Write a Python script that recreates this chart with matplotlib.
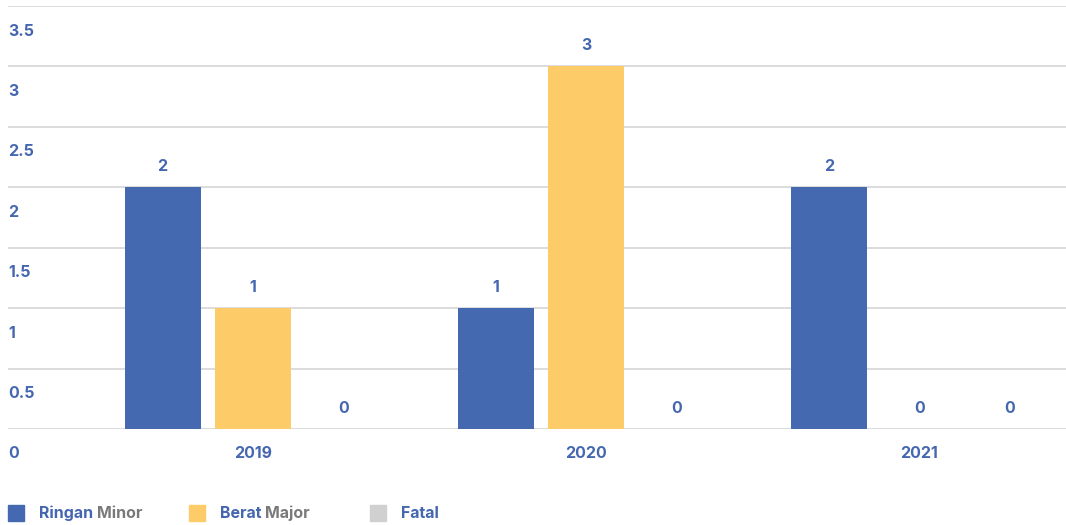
import matplotlib
matplotlib.use('Agg')
import matplotlib.pyplot as plt
import numpy as np

plt.rcParams['font.family'] = ['Inter', 'DejaVu Sans']

# data
years = ['2019', '2020', '2021']
ringan = [2, 1, 2]
berat = [1, 3, 0]
fatal = [0, 0, 0]
y_ticks = [0, 0.5, 1, 1.5, 2, 2.5, 3, 3.5]
y_tick_labels = ['0', '0.5', '1', '1.5', '2', '2.5', '3', '3.5']
legend_main = ['Ringan', 'Berat', 'Fatal']
legend_sub = ['Minor', 'Major', '']

blue = '#4469b1'
yellow = '#fdcc68'
grey = '#d0d0d0'
text_blue = '#4467b0'
text_grey = '#7a7a7a'
colors = [blue, yellow, grey]

W, H = 1066, 525
fig = plt.figure(figsize=(W / 100, H / 100), dpi=100)
ax = fig.add_axes([8 / W, (H - 429) / H, (1066 - 8) / W, (429 - 6) / H])

x = np.arange(len(years))
bw = 0.228
off = 0.272
series = [ringan, berat, fatal]
for i, (vals, c) in enumerate(zip(series, colors)):
    pos = x + (i - 1) * off
    ax.bar(pos, vals, width=bw, color=c, zorder=2)
    for p, v in zip(pos, vals):
        ax.annotate(str(v), xy=(p, v), xytext=(0, 15), textcoords='offset points',
                    ha='center', va='center', fontsize=11.5, fontweight='bold', color=text_blue)

ax.set_xlim(-0.736, 2.44)
ax.set_ylim(0, 3.5)
ax.set_yticks(y_ticks)
ax.grid(axis='y', color='#d9d9d9', lw=1.3, zorder=0)
ax.tick_params(left=False, bottom=False, labelleft=False, labelbottom=False)
for s in ax.spines.values():
    s.set_visible(False)

# y labels sit below their gridline
for v, lab in zip(y_ticks, y_tick_labels):
    ax.annotate(lab, xy=(0, v), xycoords=('axes fraction', 'data'), xytext=(0, -18),
                textcoords='offset points', ha='left', va='center',
                fontsize=11.5, fontweight='bold', color=text_blue)

# category labels
for xi, yr in zip(x, years):
    ax.annotate(yr, xy=(xi, 0), xytext=(0, -18), textcoords='offset points',
                ha='center', va='center', fontsize=11.5, fontweight='bold', color=text_blue)

# legend drawn by hand (two-colour labels)
fig.canvas.draw()
renderer = fig.canvas.get_renderer()
for i, (m, s, c) in enumerate(zip(legend_main, legend_sub, colors)):
    x0 = 8 + i * 181
    fig.patches.append(plt.Rectangle((x0 / W, (H - 521) / H), 16 / W, 16 / H,
                                     transform=fig.transFigure, color=c))
    t = fig.text((x0 + 31) / W, (H - 513) / H, m, ha='left', va='center',
                 fontsize=11.5, fontweight='bold', color=text_blue)
    if s:
        bb = t.get_window_extent(renderer)
        fig.text((bb.x1 + 4) / W, (H - 513) / H, s, ha='left', va='center',
                 fontsize=11.5, fontweight='bold', color=text_grey)

fig.savefig('out.png', dpi=100)
